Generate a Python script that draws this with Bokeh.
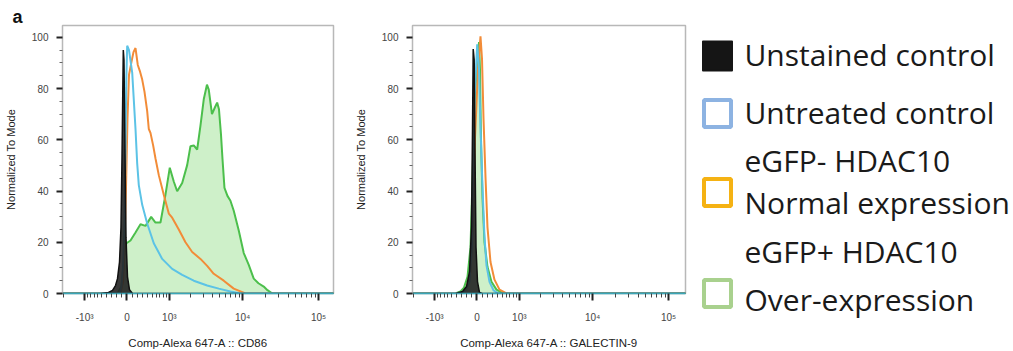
import numpy as np
from bokeh.plotting import figure
from bokeh.models import Range1d, FixedTicker, CustomJSTickFormatter
from bokeh.layouts import row
from bokeh.embed import file_html
from bokeh.resources import INLINE
from bokeh.core.properties import value

# ---------------- data ----------------
# x positions are in biexponential display units: u = asinh(intensity / 600)
COFACTOR = 600.0

# Panel 1 : Comp-Alexa 647-A :: CD86
cd86_unstained_u = [-1.955, -0.803, -0.561, -0.439, -0.348, -0.288, -0.227, -0.182, -0.152, -0.127, -0.112, -0.091, -0.061, -0.030, 0.015, 0.076, 0.167, 6.4]
cd86_unstained_v = [0, 0, 0.4, 1.2, 3.1, 5.8, 12.3, 25.8, 52.7, 79.6, 95.0, 91.2, 56.5, 21.9, 6.5, 1.5, 0, 0]

cd86_untreated_u = [-1.955, -0.227, -0.167, -0.121, -0.076, -0.045, -0.021, 0.006, 0.061, 0.158, 0.258, 0.309, 0.358, 0.461, 0.612, 0.812, 1.067, 1.370, 1.673, 2.024, 2.430, 2.782, 3.136, 3.439, 6.4]
cd86_untreated_v = [0, 0, 2.7, 10.4, 25.8, 56.5, 83.5, 96.7, 95.0, 86.2, 64.2, 50.8, 42.3, 34.6, 27.3, 19.6, 13.5, 9.6, 7.3, 5.0, 3.1, 1.9, 0.8, 0, 0]

cd86_normal_u = [-1.955, -0.197, -0.121, -0.076, -0.030, 0.015, 0.061, 0.136, 0.197, 0.258, 0.327, 0.388, 0.461, 0.530, 0.612, 0.661, 0.712, 0.794, 0.864, 0.964, 1.115, 1.267, 1.370, 1.570, 1.773, 1.976, 2.227, 2.430, 2.630, 2.933, 3.236, 3.591, 6.4]
cd86_normal_v = [0, 0, 4.6, 18.1, 41.2, 68.1, 85.4, 90.4, 94.2, 95.8, 89.2, 86.9, 83.5, 78.8, 71.2, 64.2, 62.7, 57.7, 52.7, 46.2, 38.5, 31.2, 29.6, 25.0, 20.0, 16.2, 13.5, 10.8, 7.7, 5.0, 1.9, 0, 0]

cd86_over_u = [-1.955, -0.288, -0.167, -0.106, -0.061, -0.015, 0.106, 0.258, 0.409, 0.561, 0.733, 0.864, 1.015, 1.167, 1.297, 1.418, 1.521, 1.673, 1.824, 1.924, 2.024, 2.127, 2.227, 2.327, 2.424, 2.479, 2.576, 2.667, 2.733, 2.788, 2.848, 2.894, 2.955, 3.045, 3.136, 3.236, 3.388, 3.539, 3.691, 3.842, 3.985, 4.145, 4.258, 4.409, 6.4]
cd86_over_v = [0, 0, 2.7, 10.4, 18.1, 19.6, 20.7, 23.8, 27.0, 26.4, 29.9, 27.7, 27.7, 38.6, 49.1, 43.7, 39.9, 43.1, 50.1, 57.5, 57.8, 56.2, 65.5, 75.8, 81.5, 79.6, 70.0, 72.7, 74.5, 71.9, 62.3, 52.7, 41.2, 38.1, 36.2, 32.3, 24.6, 15.8, 11.2, 5.8, 4.0, 2.7, 1.3, 0, 0]

# Panel 2 : Comp-Alexa 647-A :: GALECTIN-9
gal9_unstained_u = [-1.955, -0.652, -0.439, -0.318, -0.227, -0.167, -0.136, -0.115, -0.085, -0.061, -0.030, 0.015, 0.076, 0.167, 6.4]
gal9_unstained_v = [0, 0, 0.8, 2.7, 8.5, 25.8, 64.2, 95.4, 91.2, 56.5, 18.1, 4.6, 0.4, 0, 0]

gal9_untreated_u = [-1.955, -0.561, -0.348, -0.227, -0.152, -0.121, -0.076, 0.006, 0.061, 0.106, 0.167, 0.227, 0.288, 0.379, 0.500, 0.652, 6.4]
gal9_untreated_v = [0, 0, 1.2, 4.6, 18.1, 45.0, 75.8, 97.3, 87.7, 64.6, 41.5, 22.3, 11.0, 4.6, 1.2, 0, 0]

gal9_normal_u = [-1.955, -0.500, -0.318, -0.197, -0.121, -0.061, 0.030, 0.106, 0.152, 0.197, 0.258, 0.318, 0.409, 0.530, 0.682, 0.894, 6.4]
gal9_normal_v = [0, 0, 1.9, 8.5, 29.6, 60.4, 87.3, 100.4, 91.5, 68.5, 45.4, 25.8, 12.3, 5.4, 1.5, 0, 0]

gal9_over_u = [-1.955, -0.652, -0.500, -0.394, -0.288, -0.197, -0.136, -0.076, 0.061, 0.091, 0.121, 0.167, 0.227, 0.318, 0.439, 0.591, 0.803, 6.4]
gal9_over_v = [0, 0, 0.8, 2.3, 6.5, 18.1, 45.0, 75.8, 98.1, 87.3, 60.4, 37.3, 20.0, 10.4, 4.6, 1.5, 0, 0]

# axis ticks (intensity values) and labels
x_major_values = [-1000, 0, 1000, 10000, 100000]
x_major_labels = ["-10\u00b3", "0", "10\u00b3", "10\u2074", "10\u2075"]
x_minor_values = ([-2000] + [-100 * k for k in range(1, 10)] + [100 * k for k in range(1, 10)]
                  + [1000 * k for k in range(2, 10)] + [10000 * k for k in range(2, 10)])
y_major = [0, 20, 40, 60, 80, 100]
y_minor = [5, 10, 15, 25, 30, 35, 45, 50, 55, 65, 70, 75, 85, 90, 95]

legend_labels = [["Unstained control"], ["Untreated control"],
                 ["eGFP- HDAC10", "Normal expression"], ["eGFP+ HDAC10", "Over-expression"]]
legend_fill = ["#151515", None, None, None]
legend_edge = ["#151515", "#8db3e2", "#f5b213", "#a9d18e"]

x_titles = ["Comp-Alexa 647-A :: CD86", "Comp-Alexa 647-A :: GALECTIN-9"]
y_title = "Normalized To Mode"
panel_letter = "a"

# ---------------- helpers ----------------
def biex(vals):
    return [float(np.arcsinh(v / COFACTOR)) for v in vals]

major_u = biex(x_major_values)
minor_u = biex(x_minor_values)

FONT = "Liberation Sans"
C_BLACK = "#111111"
C_BLUE = "#5cc3e6"
C_ORANGE = "#f28c38"
C_GREEN = "#4cbf4c"
C_GREEN_FILL = "#c6edbf"
H = 351


def histo_panel(width, border_left, border_right, xr, xtitle, series):
    p = figure(width=width, height=H, output_backend="svg", toolbar_location=None,
               x_range=Range1d(*xr), y_range=Range1d(0, 104.6),
               min_border_left=border_left, min_border_right=border_right,
               min_border_top=25, min_border_bottom=54)
    p.frame_align = False
    p.grid.visible = False
    p.outline_line_color = "#b8b8b8"
    p.outline_line_width = 1.5
    p.background_fill_color = "white"
    p.border_fill_color = "white"

    over_u, over_v, norm_u, norm_v, untr_u, untr_v, unst_u, unst_v = series
    p.varea(x=over_u, y1=0, y2=over_v, fill_color=C_GREEN_FILL, fill_alpha=0.85)
    p.line(over_u, over_v, line_color=C_GREEN, line_width=2)
    p.line(norm_u, norm_v, line_color=C_ORANGE, line_width=2)
    p.line(untr_u, untr_v, line_color=C_BLUE, line_width=2)
    p.varea(x=unst_u, y1=0, y2=unst_v, fill_color="#222222", fill_alpha=0.9)
    p.line(unst_u, unst_v, line_color=C_BLACK, line_width=1.5)

    xa = p.xaxis[0]
    xa.ticker = FixedTicker(ticks=major_u, minor_ticks=minor_u)
    xa.formatter = CustomJSTickFormatter(args=dict(vals=major_u, labs=x_major_labels), code="""
        for (let i = 0; i < vals.length; i++) { if (Math.abs(tick - vals[i]) < 1e-6) return labs[i]; }
        return "";
    """)
    xa.axis_line_color = "#3aa6b8"
    xa.axis_line_width = 1.5
    xa.major_tick_in = 0
    xa.major_tick_out = 7
    xa.major_tick_line_width = 2
    xa.major_tick_line_color = "#222222"
    xa.minor_tick_in = 0
    xa.minor_tick_out = 4
    xa.minor_tick_line_color = "#444444"
    xa.major_label_text_font = FONT
    xa.major_label_text_font_size = "10px"
    xa.major_label_text_color = "#444444"
    xa.major_label_standoff = 11
    xa.axis_label = xtitle
    xa.axis_label_text_font = FONT
    xa.axis_label_text_font_size = "11.5px"
    xa.axis_label_text_font_style = "normal"
    xa.axis_label_text_color = "#222222"
    xa.axis_label_standoff = 11

    ya = p.yaxis[0]
    ya.ticker = FixedTicker(ticks=y_major, minor_ticks=y_minor)
    ya.axis_line_color = "#b8b8b8"
    ya.major_tick_in = 0
    ya.major_tick_out = 6
    ya.major_tick_line_width = 2
    ya.major_tick_line_color = "#222222"
    ya.minor_tick_in = 0
    ya.minor_tick_out = 3
    ya.minor_tick_line_color = "#666666"
    ya.major_label_text_font = FONT
    ya.major_label_text_font_size = "10px"
    ya.major_label_text_color = "#444444"
    ya.major_label_standoff = 8
    ya.axis_label = y_title
    ya.axis_label_text_font = FONT
    ya.axis_label_text_font_size = "11px"
    ya.axis_label_text_font_style = "normal"
    ya.axis_label_text_color = "#222222"
    ya.axis_label_standoff = 12
    return p


p1 = histo_panel(345, 62, 12, (-1.955, 6.26), x_titles[0],
                 (cd86_over_u, cd86_over_v, cd86_normal_u, cd86_normal_v,
                  cd86_untreated_u, cd86_untreated_v, cd86_unstained_u, cd86_unstained_v))
p2 = histo_panel(345, 67, 5, (-1.955, 6.32), x_titles[1],
                 (gal9_over_u, gal9_over_v, gal9_normal_u, gal9_normal_v,
                  gal9_untreated_u, gal9_untreated_v, gal9_unstained_u, gal9_unstained_v))

# panel letter as the title of the first panel
p1.title.text = panel_letter
p1.title.align = "left"
p1.title.offset = -50
p1.title.standoff = -2
p1.title.text_font = "Liberation Sans"
p1.title.text_font_size = "18px"
p1.title.text_font_style = "bold"
p1.title.text_color = "#111111"

# ---------------- legend panel ----------------
leg = figure(width=323, height=H, output_backend="svg", toolbar_location=None,
             x_range=Range1d(690, 1013), y_range=Range1d(H, 0),
             min_border=0, min_border_left=0, min_border_right=0,
             min_border_top=0, min_border_bottom=0)
leg.frame_align = False
leg.axis.visible = False
leg.grid.visible = False
leg.outline_line_color = None

sq_x = 717
sq_y = [55.5, 113, 192, 293]
line_y = [[53.5], [111.5], [159.5, 202], [251, 299]]
for i, labs in enumerate(legend_labels):
    if legend_fill[i] is not None:
        leg.rect(x=[sq_x], y=[sq_y[i]], width=29, height=29, fill_color=legend_fill[i],
                 line_color=legend_edge[i], line_width=2, line_join="round")
    else:
        leg.rect(x=[sq_x], y=[sq_y[i]], width=27, height=27, fill_color=None,
                 line_color=legend_edge[i], line_width=4)
    leg.text(x=[744] * len(labs), y=line_y[i], text=labs, text_font=value("Open Sans"),
             text_font_size="30px", text_color="#1a1a1a", text_baseline="alphabetic",
             text_align="left")

layout = row(p1, p2, leg, spacing=0)
open("out.html", "w").write(file_html(layout, INLINE))
